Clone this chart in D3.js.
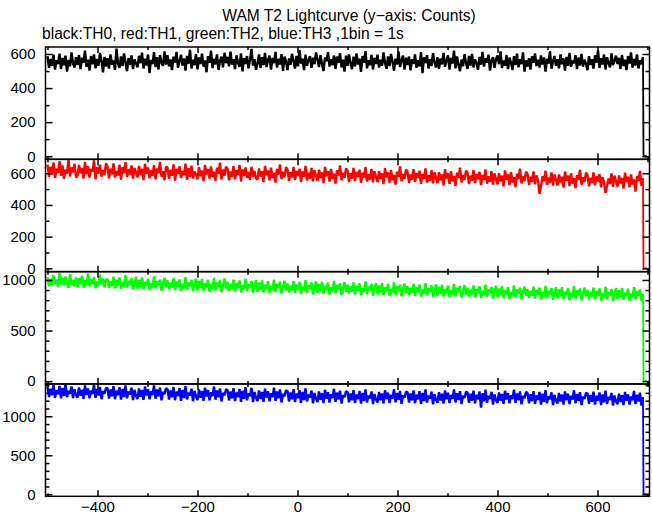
<!DOCTYPE html>
<html><head><meta charset="utf-8">
<script src="https://cdn.jsdelivr.net/npm/d3@7"></script>
<style>
body{margin:0;background:#fff}
svg{display:block}
text{font-family:"Liberation Sans",Arial,Helvetica,sans-serif;}
</style>
</head><body>
<svg id="chart" width="652" height="515"></svg>
<script>
// ---- data (1 value every 3 s) ----
const binStart = -500, binWidth = 3;
const tailTimes = [692, 699];
const tailValues = [0, 0];

const th0 = [
588,519,571,530,596,508,563,541,602,512,577,534,590,497,566,528,609,545,520,581,
536,594,511,579,548,620,525,567,503,588,540,598,516,571,531,606,559,492,583,527,
575,514,597,538,562,507,631,544,518,586,529,603,550,499,576,536,592,511,568,545,
521,589,546,608,515,572,533,597,488,565,540,611,524,581,509,594,550,530,616,538,
593,527,568,505,584,549,612,519,557,596,532,574,502,589,543,625,514,566,535,599,
510,580,541,602,526,563,493,587,548,619,517,571,539,598,506,560,584,522,607,546,
583,528,614,537,570,511,592,549,525,603,498,576,541,588,516,565,630,532,569,507,
544,597,518,581,535,606,523,564,590,509,577,546,612,520,571,538,599,501,584,555,
506,574,536,601,561,514,589,527,622,543,572,505,596,531,563,587,519,578,540,609,
567,523,593,542,500,580,557,611,526,569,534,591,512,585,548,604,521,567,497,590,
530,598,545,511,584,527,603,538,572,495,588,549,617,516,563,534,595,509,577,541,
596,520,567,531,609,547,513,586,529,600,556,502,573,538,615,524,562,590,508,578,
535,585,504,570,542,598,519,563,527,611,488,580,547,593,515,569,530,604,551,521,
582,513,574,539,606,525,561,592,508,577,544,620,516,586,535,499,567,528,598,547,
512,589,532,600,521,568,546,507,583,537,613,526,574,549,596,503,562,581,519,571,
591,540,615,518,562,531,594,511,579,548,506,587,535,602,522,570,541,609,497,563,
527,575,509,586,548,603,529,566,520,591,538,580,497,572,544,615,514,557,588,531,
569,516,598,540,574,502,583,530,607,524,561,545,593,511,579,532,600,526,566,543,
505,587,536,569,514,592,550,621,518,575,538,597,509,581,547,522,603,534,560,590,
541,577,512,594,529,566,505,588,544,610,520,571,533,597,515,562,540,583
];
const th1 = [
655,578,641,592,668,571,630,603,676,584,649,565,622,597,689,580,637,606,660,574,
585,652,600,633,566,671,594,645,573,627,610,682,561,640,598,654,579,621,590,663,
641,568,629,594,662,573,615,586,654,560,638,601,670,577,624,592,649,566,633,605,
574,646,589,628,557,660,597,637,569,619,583,651,562,631,600,672,578,613,556,642,
636,565,621,584,656,553,628,596,644,570,615,589,661,558,632,577,648,567,611,594,
562,638,581,617,549,653,592,626,566,644,575,610,553,635,596,667,560,623,584,641,
629,556,611,577,645,562,620,590,652,548,624,583,637,571,608,559,641,579,615,567,
560,631,579,612,544,647,586,618,556,636,570,603,541,627,592,655,563,609,575,638,
624,551,607,573,640,557,615,583,629,545,611,578,646,554,603,566,634,549,620,586,
551,622,570,606,538,641,581,614,547,628,563,597,535,619,585,650,556,603,572,631,
617,545,600,566,634,551,609,577,623,540,603,572,639,548,596,560,627,543,613,579,
544,614,563,599,531,632,574,606,541,621,556,590,528,611,578,643,549,596,565,624,
610,539,593,560,626,545,601,570,616,533,596,565,631,541,588,553,620,536,606,572,
537,607,556,592,524,625,567,599,533,614,549,583,520,604,571,636,542,589,558,617,
603,532,586,553,619,538,594,563,609,526,589,558,624,534,581,546,613,529,599,565,
530,600,549,585,517,618,560,592,526,607,542,576,513,597,564,629,535,582,551,610,
596,525,579,546,612,531,587,556,470,519,582,551,617,527,574,539,606,522,592,558,
523,593,542,578,510,611,553,585,519,600,535,569,506,590,557,622,528,575,544,603,
589,518,572,539,605,524,580,549,595,512,575,544,476,520,567,532,599,515,585,551,
516,586,535,571,503,604,546,578,512,593,528,562,484,583,550,615,521,568
];
const th2 = [
1027,938,1012,951,1046,963,1004,929,1070,957,1019,944,1035,971,922,1058,948,1001,935,1024,
930,1018,955,1041,924,996,949,1063,937,1008,961,1029,918,985,942,1052,958,1014,927,1001,
1009,921,988,940,1033,915,1002,948,1024,911,979,937,1048,926,993,954,1017,905,971,1030,
912,1001,934,1025,906,979,943,1012,899,968,927,1036,918,990,951,1004,893,961,1021,930,
996,907,971,925,1019,898,984,936,1005,889,962,917,1027,903,978,941,999,892,955,1013,
897,989,920,1008,891,966,928,1001,884,957,911,1020,895,975,934,996,880,950,1014,916,
981,890,962,913,1003,884,969,921,995,877,948,906,1011,889,958,927,990,873,940,999,
883,973,904,996,876,951,914,987,869,940,899,1004,881,962,921,981,866,934,992,895,
966,877,946,898,989,871,953,907,980,862,935,892,997,874,945,913,974,858,927,985,
870,960,891,982,864,939,901,974,855,928,886,991,867,950,908,967,851,921,979,883,
953,865,934,885,976,858,941,894,968,849,922,879,985,861,932,899,961,845,916,970,
857,946,878,968,850,925,887,960,842,914,871,977,853,938,893,953,837,908,964,869,
938,851,920,872,961,844,927,880,954,835,906,864,969,847,918,886,947,830,899,957,
842,931,862,952,835,910,872,946,827,898,856,962,838,921,879,939,823,893,949,853,
923,836,904,857,946,829,912,865,938,820,891,849,954,832,903,871,931,815,886,942,
828,916,849,937,821,895,859,930,812,882,841,947,825,906,864,924,808,878,934,845,
910,823,891,844,933,816,899,852,925,807,878,836,941,819,890,858,918,803,871,929,
818,905,838,928,811,884,848,921,802,873,832,938,815,897,855,914,799,867,924,836,
901,814,882,835,924,807,890,843,916,796,869,827,932,810,881,849,909,794,862,919,
810,897,831,920,803,876,841,913,795,865,825,929,807,889,846,906,790,858
];
const th3 = [
1378,1247,1352,1269,1401,1236,1335,1281,1390,1229,1364,1258,1412,1244,1327,1290,1383,1233,1346,1275,
1240,1369,1262,1341,1225,1395,1273,1356,1231,1330,1284,1408,1236,1349,1266,1377,1219,1322,1291,1363,
1361,1228,1344,1257,1386,1219,1327,1272,1373,1213,1350,1246,1397,1230,1318,1279,1366,1207,1338,1263,
1222,1357,1249,1338,1210,1381,1266,1347,1218,1320,1271,1396,1225,1343,1255,1368,1204,1311,1283,1359,
1349,1215,1331,1243,1375,1206,1316,1259,1362,1199,1338,1234,1386,1216,1305,1268,1353,1193,1325,1250,
1209,1343,1236,1324,1197,1366,1253,1335,1204,1308,1259,1381,1212,1330,1243,1355,1190,1298,1270,1347,
1337,1203,1318,1231,1360,1195,1304,1246,1350,1186,1326,1222,1373,1204,1293,1256,1365,1181,1312,1238,
1196,1331,1223,1311,1184,1354,1240,1322,1191,1296,1246,1368,1199,1317,1230,1343,1177,1286,1257,1334,
1323,1190,1305,1217,1347,1181,1291,1232,1336,1173,1312,1208,1359,1190,1279,1242,1330,1167,1298,1224,
1183,1317,1210,1297,1170,1339,1226,1308,1177,1282,1232,1352,1185,1303,1216,1329,1163,1272,1243,1320,
1311,1178,1293,1205,1334,1169,1279,1220,1324,1161,1300,1196,1346,1178,1267,1230,1318,1155,1286,1212,
1177,1312,1204,1292,1164,1333,1221,1303,1171,1276,1227,1347,1179,1298,1210,1324,1158,1266,1238,1315,
1309,1176,1291,1203,1332,1167,1277,1218,1322,1159,1298,1194,1344,1176,1265,1228,1316,1153,1284,1210,
1175,1310,1202,1290,1162,1331,1219,1301,1169,1274,1225,1345,1177,1296,1208,1322,1156,1264,1236,1313,
1306,1173,1288,1200,1329,1164,1274,1215,1319,1110,1295,1191,1341,1173,1262,1225,1313,1150,1281,1207,
1171,1306,1198,1286,1158,1327,1215,1297,1165,1270,1221,1341,1173,1292,1204,1318,1152,1260,1232,1309,
1300,1167,1282,1194,1323,1158,1268,1209,1313,1150,1289,1185,1335,1167,1256,1219,1307,1144,1275,1201,
1163,1298,1190,1278,1150,1319,1207,1289,1157,1262,1213,1333,1165,1284,1196,1310,1144,1252,1224,1301,
1292,1159,1274,1186,1315,1150,1260,1201,1305,1142,1281,1177,1327,1159,1248,1211,1299,1136,1267,1193,
1155,1290,1182,1270,1142,1311,1199,1281,1149,1254,1205,1325,1157,1276,1188,1302,1136,1244
];

const seriesValues = [th0, th1, th2, th3];
const seriesColors = ["#000000", "#ff0000", "#00ff00", "#0000ff"];
const yDomains = [[-18, 641], [-21, 688], [-28, 1082], [-26, 1414]];
const yMajorTicks = [[0, 200, 400, 600], [0, 200, 400, 600], [0, 500, 1000], [0, 500, 1000]];
const yMinorTicks = [[100, 300, 500], [100, 300, 500], [100, 200, 300, 400, 600, 700, 800, 900],
                     [100, 200, 300, 400, 600, 700, 800, 900, 1100, 1200, 1300, 1400]];
const xDomain = [-504, 704];
const xMajorTicks = [-400, -200, 0, 200, 400, 600];
const xMinorTicks = [-500, -300, -100, 100, 300, 500, 700];
const titleText = "WAM T2 Lightcurve (y\u2212axis: Counts)";
const subtitleText = "black:TH0, red:TH1, green:TH2, blue:TH3 ,1bin = 1s";

// ---- layout ----
const plotLeft = 45.5, plotRight = 649.5, plotTop = 47, plotBottom = 496.3;
const nPanels = 4;
const panelH = (plotBottom - plotTop) / nPanels;
const fontSize = 15;
const titleSize = 15.6;

const svg = d3.select("#chart");
svg.append("rect").attr("width", 652).attr("height", 515).attr("fill", "#fff");

const x = d3.scaleLinear().domain(xDomain).range([plotLeft, plotRight]);

svg.append("text").attr("x", 349).attr("y", 21).attr("text-anchor", "middle")
  .attr("font-size", titleSize).text(titleText);
svg.append("text").attr("x", 42).attr("y", 39)
  .attr("font-size", titleSize).text(subtitleText);

function styleAxis(g) {
  g.select(".domain").remove();
  g.selectAll(".tick line").attr("stroke", "#000").attr("stroke-width", 1.5);
  g.selectAll(".tick text").attr("fill", "#000").attr("font-size", fontSize)
    .attr("font-family", "Liberation Sans, Arial, sans-serif");
}

for (let p = 0; p < nPanels; p++) {
  const y0 = plotTop + p * panelH, y1 = y0 + panelH;
  const y = d3.scaleLinear().domain(yDomains[p]).range([y1, y0]);
  const g = svg.append("g");

  const vals = seriesValues[p];
  const pts = vals.map((v, i) => [binStart + i * binWidth, v]);
  const tail = [pts[pts.length - 1]];
  tailTimes.forEach((t, i) => tail.push([t, tailValues[i]]));
  const line = d3.line().x(d => x(d[0])).y(d => y(d[1]));
  g.append("path").datum(pts).attr("d", line)
    .attr("fill", "none").attr("stroke", seriesColors[p])
    .attr("stroke-width", 2.4).attr("stroke-linejoin", "bevel");
  g.append("path").datum(tail).attr("d", line)
    .attr("fill", "none").attr("stroke", seriesColors[p])
    .attr("stroke-width", 1.8).attr("stroke-linejoin", "miter");

  g.append("g").attr("transform", `translate(${plotLeft},0)`)
    .call(d3.axisLeft(y).tickValues(yMajorTicks[p]).tickSize(-7).tickSizeOuter(0).tickPadding(10).tickFormat(d3.format("d")))
    .call(styleAxis);
  g.append("g").attr("transform", `translate(${plotLeft},0)`)
    .call(d3.axisLeft(y).tickValues(yMinorTicks[p]).tickSize(-4).tickSizeOuter(0).tickFormat(""))
    .call(styleAxis);
  g.append("g").attr("transform", `translate(${plotRight},0)`)
    .call(d3.axisRight(y).tickValues(yMajorTicks[p]).tickSize(-7).tickSizeOuter(0).tickFormat(""))
    .call(styleAxis);
  g.append("g").attr("transform", `translate(${plotRight},0)`)
    .call(d3.axisRight(y).tickValues(yMinorTicks[p]).tickSize(-4).tickSizeOuter(0).tickFormat(""))
    .call(styleAxis);

  g.append("g").attr("transform", `translate(0,${y0})`)
    .call(d3.axisTop(x).tickValues(xMajorTicks).tickSize(-6).tickSizeOuter(0).tickFormat(""))
    .call(styleAxis);
  g.append("g").attr("transform", `translate(0,${y0})`)
    .call(d3.axisTop(x).tickValues(xMinorTicks).tickSize(-3).tickSizeOuter(0).tickFormat(""))
    .call(styleAxis);
  const bot = d3.axisBottom(x).tickValues(xMajorTicks).tickSize(-6).tickSizeOuter(0).tickPadding(5);
  if (p < nPanels - 1) bot.tickFormat("");
  g.append("g").attr("transform", `translate(0,${y1})`).call(bot).call(styleAxis);
  g.append("g").attr("transform", `translate(0,${y1})`)
    .call(d3.axisBottom(x).tickValues(xMinorTicks).tickSize(-3).tickSizeOuter(0).tickFormat(""))
    .call(styleAxis);

  g.append("rect").attr("x", plotLeft).attr("y", y0).attr("width", plotRight - plotLeft).attr("height", panelH)
    .attr("fill", "none").attr("stroke", "#000").attr("stroke-width", 1.5);
}
</script>
</body></html>
